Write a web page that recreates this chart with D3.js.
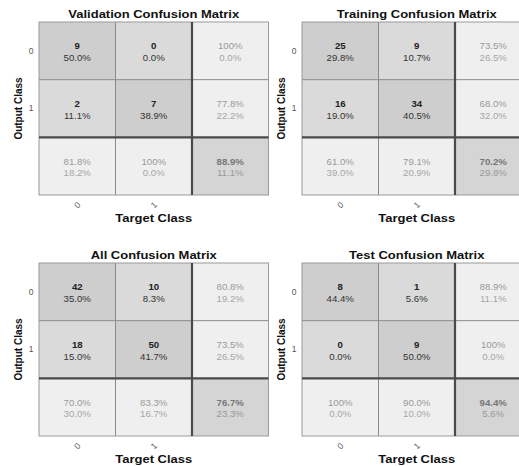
<!DOCTYPE html>
<html>
<head>
<meta charset="utf-8">
<script src="https://cdn.jsdelivr.net/npm/d3@7"></script>
<style>
  html, body { margin: 0; padding: 0; background: #fff; overflow: hidden; }
  svg { display: block; font-family: "Liberation Sans", Arial, Helvetica, sans-serif; }
</style>
</head>
<body>
<svg id="chart" width="519" height="466"></svg>
<script>
// Class labels shared by every matrix (output rows, target columns)
const classes = ["0", "1"];

// Confusion counts: rows = output class, columns = target class
const validationCounts = [[9, 0], [2, 7]];
const trainingCounts   = [[25, 9], [16, 34]];
const allCounts        = [[42, 10], [18, 50]];
const testCounts       = [[8, 1], [0, 9]];

const panelTitles = [
  "Validation Confusion Matrix",
  "Training Confusion Matrix",
  "All Confusion Matrix",
  "Test Confusion Matrix"
];
const panelCounts = [validationCounts, trainingCounts, allCounts, testCounts];

const xAxisTitle = "Target Class";
const yAxisTitle = "Output Class";

// ---- layout ----
const W = 519, H = 466;
const gridW = 229.5, gridH = 173;
const origins = [[39, 22], [302, 22], [39, 263], [302, 263]];
const sx = 1.12;   // horizontal widening of the lettering

const fills = { diag: "#cecece", off: "#dadada", summary: "#efefef", total: "#d5d5d5" };

const svg = d3.select("#chart");
svg.append("rect").attr("width", W).attr("height", H).attr("fill", "#fff");

function fmt(p) {
  return p === 100 ? "100%" : p.toFixed(1) + "%";
}

function wideText(sel, x, y) {
  return sel.attr("transform", `translate(${x},${y}) scale(${sx},1)`);
}

panelCounts.forEach((counts, i) => {
  const [ox, oy] = origins[i];
  const g = svg.append("g").attr("transform", `translate(${ox},${oy})`);
  const keys = [...classes, "sum"];
  const x = d3.scaleBand().domain(keys).range([0, gridW]);
  const y = d3.scaleBand().domain(keys).range([0, gridH]);
  const total = d3.sum(counts.flat());

  // build cells: main counts, row summaries, column summaries, overall
  const cells = [];
  classes.forEach((r, ri) => {
    classes.forEach((c, ci) => {
      const v = counts[ri][ci];
      cells.push({ r, c, kind: ri === ci ? "diag" : "off",
        line1: String(v), line2: fmt(100 * v / total) });
    });
    const rowSum = d3.sum(counts[ri]);
    const ok = 100 * counts[ri][ri] / rowSum;
    cells.push({ r, c: "sum", kind: "summary", line1: fmt(ok), line2: fmt(100 - ok) });
  });
  classes.forEach((c, ci) => {
    const colSum = d3.sum(counts, row => row[ci]);
    const ok = 100 * counts[ci][ci] / colSum;
    cells.push({ r: "sum", c, kind: "summary", line1: fmt(ok), line2: fmt(100 - ok) });
  });
  const correct = d3.sum(classes, (_, k) => counts[k][k]);
  const acc = 100 * correct / total;
  cells.push({ r: "sum", c: "sum", kind: "total", line1: fmt(acc), line2: fmt(100 - acc) });

  const cg = g.selectAll("g.cell").data(cells).join("g").attr("class", "cell");
  cg.append("rect")
    .attr("x", d => x(d.c)).attr("y", d => y(d.r))
    .attr("width", x.bandwidth()).attr("height", y.bandwidth())
    .attr("fill", d => fills[d.kind]);

  cg.append("text")
    .each(function (d) {
      wideText(d3.select(this), x(d.c) + x.bandwidth() / 2, y(d.r) + y.bandwidth() / 2 - 1.5);
    })
    .attr("text-anchor", "middle")
    .attr("font-size", 8.6)
    .attr("font-weight", d => (d.kind === "diag" || d.kind === "off" || d.kind === "total") ? "bold" : "normal")
    .attr("fill", d => d.kind === "summary" ? "#9a9a9a" : d.kind === "total" ? "#777" : "#222")
    .text(d => d.line1);

  cg.append("text")
    .each(function (d) {
      wideText(d3.select(this), x(d.c) + x.bandwidth() / 2, y(d.r) + y.bandwidth() / 2 + 10);
    })
    .attr("text-anchor", "middle")
    .attr("font-size", 8.6)
    .attr("fill", d => d.kind === "summary" ? "#a6a6a6" : d.kind === "total" ? "#999" : "#333")
    .text(d => d.line2);

  // grid lines
  const inner = [x("1")];
  inner.forEach(v => g.append("line").attr("x1", v).attr("x2", v).attr("y1", 0).attr("y2", gridH)
    .attr("stroke", "#8a8a8a").attr("stroke-width", 1));
  [y("1")].forEach(v => g.append("line").attr("x1", 0).attr("x2", gridW).attr("y1", v).attr("y2", v)
    .attr("stroke", "#8a8a8a").attr("stroke-width", 1));
  g.append("rect").attr("x", 0).attr("y", 0).attr("width", gridW).attr("height", gridH)
    .attr("fill", "none").attr("stroke", "#9a9a9a").attr("stroke-width", 1);
  g.append("line").attr("x1", x("sum")).attr("x2", x("sum")).attr("y1", 0).attr("y2", gridH)
    .attr("stroke", "#4a4a4a").attr("stroke-width", 2.2);
  g.append("line").attr("x1", 0).attr("x2", gridW).attr("y1", y("sum")).attr("y2", y("sum"))
    .attr("stroke", "#4a4a4a").attr("stroke-width", 2.2);

  // class tick labels
  const yTicks = d3.scaleBand().domain(classes).range([0, y("sum")]);
  const xTicks = d3.scaleBand().domain(classes).range([0, x("sum")]);

  const ya = g.append("g").call(d3.axisLeft(yTicks).tickSize(0).tickPadding(5.5));
  ya.select(".domain").remove();
  ya.selectAll("text").attr("font-size", 8.5).attr("fill", "#555")
    .attr("font-family", "'Liberation Sans', Arial, sans-serif");

  const xa = g.append("g").attr("transform", `translate(0,${gridH})`)
    .call(d3.axisBottom(xTicks).tickSize(0));
  xa.select(".domain").remove();
  xa.selectAll("text")
    .attr("y", 0).attr("dy", "0.35em")
    .attr("transform", "translate(0,10) rotate(-45)")
    .attr("text-anchor", "middle")
    .attr("font-size", 8.5).attr("fill", "#555")
    .attr("font-family", "'Liberation Sans', Arial, sans-serif");

  // titles
  wideText(g.append("text"), gridW / 2, -4)
    .attr("text-anchor", "middle").attr("font-size", 11.6).attr("font-weight", "bold")
    .attr("fill", "#111").text(panelTitles[i]);

  wideText(g.append("text"), gridW / 2, gridH + 26.5)
    .attr("text-anchor", "middle").attr("font-size", 11.6).attr("font-weight", "bold")
    .attr("fill", "#111").text(xAxisTitle);

  g.append("text")
    .attr("transform", `translate(-17,${gridH / 2}) rotate(-90)`)
    .attr("text-anchor", "middle").attr("font-size", 10).attr("font-weight", "bold")
    .attr("fill", "#111").text(yAxisTitle);
});
</script>
</body>
</html>
